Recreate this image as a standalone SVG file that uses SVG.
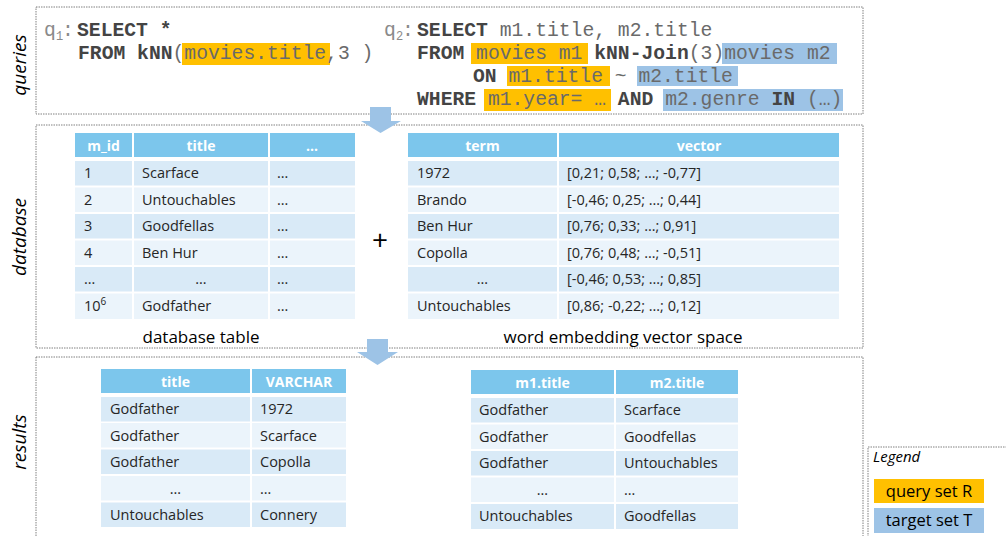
<svg xmlns="http://www.w3.org/2000/svg" width="1006" height="536" viewBox="0 0 1006 536">
<style>
.frame{fill:none;stroke:#808080;stroke-width:1;stroke-dasharray:1.5 1}
.lbl{font-family:"Open Sans",sans-serif;font-style:italic;font-size:19px;fill:#000;text-anchor:middle}
.sql{font-family:"Liberation Mono",monospace;font-size:19.7px;fill:#6a6a6a}
.kw{font-weight:bold;fill:#444}
.ql{fill:#8a8a8a}
.or{fill:#FFC000}
.bl{fill:#9DC3E6}
.hd{fill:#7CC6EC}
.r1{fill:#D9EAF7}
.r2{fill:#EBF4FB}
.th{font-family:"Open Sans",sans-serif;font-weight:bold;font-size:14px;fill:#fff;text-anchor:middle}
.td{font-family:"Open Sans",sans-serif;font-size:14.5px;fill:#262626}
.c{text-anchor:middle}
.cap{font-family:"Open Sans",sans-serif;font-size:17px;fill:#000;text-anchor:middle}
.arrow{fill:#9DC3E6}
.leg{font-family:"Open Sans",sans-serif;font-size:16.5px;fill:#000;text-anchor:middle}
</style>

<g id="queries">
  <rect class="frame" x="36" y="7" width="827" height="107"/>
  <text class="lbl" transform="translate(26,65) rotate(-90)">queries</text>
  <rect class="or" x="182" y="43" width="148" height="22"/>
  <text class="sql" y="35.5"><tspan class="ql" x="44">q</tspan><tspan class="ql" x="56" dy="4" font-size="12">1</tspan><tspan class="ql" x="62" dy="-4">:</tspan><tspan class="kw" x="77">SELECT *</tspan></text>
  <text class="sql" x="78" y="59"><tspan class="kw">FROM kNN</tspan>(movies.title,3 )</text>

  <rect class="or" x="471" y="43" width="117" height="21"/>
  <rect class="bl" x="722" y="43" width="115" height="21"/>
  <rect class="or" x="507" y="66" width="103" height="20"/>
  <rect class="bl" x="637" y="66" width="101" height="20"/>
  <rect class="or" x="484" y="89" width="127" height="22"/>
  <rect class="bl" x="663" y="89" width="180" height="22"/>
  <text class="sql" y="35.5"><tspan class="ql" x="384">q</tspan><tspan class="ql" x="396" dy="4" font-size="12">2</tspan><tspan class="ql" x="402" dy="-4">:</tspan><tspan class="kw" x="417">SELECT</tspan> m1.title, m2.title</text>
  <text class="sql" x="417" y="58.5"><tspan class="kw">FROM</tspan> movies m1 <tspan class="kw">kNN-Join</tspan>(3)movies m2</text>
  <text class="sql" x="473" y="82"><tspan class="kw">ON</tspan> m1.title ~ m2.title</text>
  <text class="sql" x="417" y="105"><tspan class="kw">WHERE</tspan> m1.year= … <tspan class="kw">AND</tspan> m2.genre <tspan class="kw">IN</tspan> (…)</text>
</g>

<g id="database">
  <rect class="frame" x="36" y="125" width="827" height="223"/>
  <text class="lbl" transform="translate(26,237) rotate(-90)">database</text>
</g>

<g id="database-table">
  <rect class="hd" x="75" y="133" width="57" height="24"/>
  <rect class="hd" x="134" y="133" width="134" height="24"/>
  <rect class="hd" x="270" y="133" width="85" height="24"/>
  <g>
    <rect class="r1" x="75" y="161" width="57" height="24.5"/><rect class="r1" x="134" y="161" width="134" height="24.5"/><rect class="r1" x="270" y="161" width="85" height="24.5"/>
    <rect class="r2" x="75" y="187.5" width="57" height="24.5"/><rect class="r2" x="134" y="187.5" width="134" height="24.5"/><rect class="r2" x="270" y="187.5" width="85" height="24.5"/>
    <rect class="r1" x="75" y="214" width="57" height="24.5"/><rect class="r1" x="134" y="214" width="134" height="24.5"/><rect class="r1" x="270" y="214" width="85" height="24.5"/>
    <rect class="r2" x="75" y="240.5" width="57" height="24.5"/><rect class="r2" x="134" y="240.5" width="134" height="24.5"/><rect class="r2" x="270" y="240.5" width="85" height="24.5"/>
    <rect class="r1" x="75" y="267" width="57" height="24.5"/><rect class="r1" x="134" y="267" width="134" height="24.5"/><rect class="r1" x="270" y="267" width="85" height="24.5"/>
    <rect class="r2" x="75" y="293.5" width="57" height="25.5"/><rect class="r2" x="134" y="293.5" width="134" height="25.5"/><rect class="r2" x="270" y="293.5" width="85" height="25.5"/>
  </g>
  <text class="th" x="103.5" y="151">m_id</text>
  <text class="th" x="201" y="151">title</text>
  <text class="th" x="312" y="151">…</text>
  <text class="td" x="84" y="178">1</text><text class="td" x="142" y="178">Scarface</text><text class="td" x="277" y="178">…</text>
  <text class="td" x="84" y="204.5">2</text><text class="td" x="142" y="204.5">Untouchables</text><text class="td" x="277" y="204.5">…</text>
  <text class="td" x="84" y="231">3</text><text class="td" x="142" y="231">Goodfellas</text><text class="td" x="277" y="231">…</text>
  <text class="td" x="84" y="257.5">4</text><text class="td" x="142" y="257.5">Ben Hur</text><text class="td" x="277" y="257.5">…</text>
  <text class="td" x="84" y="284">…</text><text class="td c" x="201" y="284">…</text><text class="td" x="277" y="284">…</text>
  <text class="td" x="84" y="311">10<tspan dy="-6" font-size="10">6</tspan></text><text class="td" x="142" y="311">Godfather</text><text class="td" x="277" y="311">…</text>
  <text class="cap" x="201" y="343">database table</text>
</g>

<g id="plus">
  <text x="380" y="250" font-family="Open Sans, sans-serif" font-size="28" text-anchor="middle" fill="#000">+</text>
</g>

<g id="embedding-table">
  <rect class="hd" x="408" y="133" width="149" height="24"/>
  <rect class="hd" x="559" y="133" width="280" height="24"/>
  <rect class="r1" x="408" y="161" width="149" height="24.5"/><rect class="r1" x="559" y="161" width="280" height="24.5"/>
  <rect class="r2" x="408" y="187.5" width="149" height="24.5"/><rect class="r2" x="559" y="187.5" width="280" height="24.5"/>
  <rect class="r1" x="408" y="214" width="149" height="24.5"/><rect class="r1" x="559" y="214" width="280" height="24.5"/>
  <rect class="r2" x="408" y="240.5" width="149" height="24.5"/><rect class="r2" x="559" y="240.5" width="280" height="24.5"/>
  <rect class="r1" x="408" y="267" width="149" height="24.5"/><rect class="r1" x="559" y="267" width="280" height="24.5"/>
  <rect class="r2" x="408" y="293.5" width="149" height="25.5"/><rect class="r2" x="559" y="293.5" width="280" height="25.5"/>
  <text class="th" x="482.5" y="151">term</text>
  <text class="th" x="699" y="151">vector</text>
  <text class="td" x="417" y="178">1972</text><text class="td" x="567" y="178">[0,21; 0,58; …; -0,77]</text>
  <text class="td" x="417" y="204.5">Brando</text><text class="td" x="567" y="204.5">[-0,46; 0,25; …; 0,44]</text>
  <text class="td" x="417" y="231">Ben Hur</text><text class="td" x="567" y="231">[0,76; 0,33; …; 0,91]</text>
  <text class="td" x="417" y="257.5">Copolla</text><text class="td" x="567" y="257.5">[0,76; 0,48; …; -0,51]</text>
  <text class="td c" x="482.5" y="284">…</text><text class="td" x="567" y="284">[-0,46; 0,53; …; 0,85]</text>
  <text class="td" x="417" y="311">Untouchables</text><text class="td" x="567" y="311">[0,86; -0,22; …; 0,12]</text>
  <text class="cap" x="623" y="343">word embedding vector space</text>
</g>

<g id="results">
  <rect class="frame" x="36" y="357" width="827" height="200"/>
  <text class="lbl" transform="translate(26,442) rotate(-90)">results</text>
</g>

<g id="result-q1">
  <rect class="hd" x="101" y="369" width="149" height="24"/>
  <rect class="hd" x="252" y="369" width="94" height="24"/>
  <rect class="r1" x="101" y="397" width="149" height="24.5"/><rect class="r1" x="252" y="397" width="94" height="24.5"/>
  <rect class="r2" x="101" y="423" width="149" height="24.5"/><rect class="r2" x="252" y="423" width="94" height="24.5"/>
  <rect class="r1" x="101" y="449.5" width="149" height="24.5"/><rect class="r1" x="252" y="449.5" width="94" height="24.5"/>
  <rect class="r2" x="101" y="476" width="149" height="24.5"/><rect class="r2" x="252" y="476" width="94" height="24.5"/>
  <rect class="r1" x="101" y="502.5" width="149" height="24.5"/><rect class="r1" x="252" y="502.5" width="94" height="24.5"/>
  <text class="th" x="175.5" y="387">title</text>
  <text class="th" x="299" y="387">VARCHAR</text>
  <text class="td" x="110" y="414">Godfather</text><text class="td" x="260" y="414">1972</text>
  <text class="td" x="110" y="440.5">Godfather</text><text class="td" x="260" y="440.5">Scarface</text>
  <text class="td" x="110" y="467">Godfather</text><text class="td" x="260" y="467">Copolla</text>
  <text class="td c" x="175.5" y="493.5">…</text><text class="td" x="260" y="493.5">…</text>
  <text class="td" x="110" y="520">Untouchables</text><text class="td" x="260" y="520">Connery</text>
</g>

<g id="result-q2">
  <rect class="hd" x="471" y="370" width="143" height="24"/>
  <rect class="hd" x="616" y="370" width="122" height="24"/>
  <rect class="r1" x="471" y="398" width="143" height="24.5"/><rect class="r1" x="616" y="398" width="122" height="24.5"/>
  <rect class="r2" x="471" y="424.5" width="143" height="24.5"/><rect class="r2" x="616" y="424.5" width="122" height="24.5"/>
  <rect class="r1" x="471" y="451" width="143" height="24.5"/><rect class="r1" x="616" y="451" width="122" height="24.5"/>
  <rect class="r2" x="471" y="477.5" width="143" height="24.5"/><rect class="r2" x="616" y="477.5" width="122" height="24.5"/>
  <rect class="r1" x="471" y="504" width="143" height="25"/><rect class="r1" x="616" y="504" width="122" height="25"/>
  <text class="th" x="542.5" y="388">m1.title</text>
  <text class="th" x="677" y="388">m2.title</text>
  <text class="td" x="479" y="415">Godfather</text><text class="td" x="624" y="415">Scarface</text>
  <text class="td" x="479" y="441.5">Godfather</text><text class="td" x="624" y="441.5">Goodfellas</text>
  <text class="td" x="479" y="468">Godfather</text><text class="td" x="624" y="468">Untouchables</text>
  <text class="td c" x="542.5" y="494.5">…</text><text class="td" x="624" y="494.5">…</text>
  <text class="td" x="479" y="521">Untouchables</text><text class="td" x="624" y="521">Goodfellas</text>
</g>

<g id="legend">
  <rect class="frame" x="868" y="447" width="150" height="100"/>
  <text x="873" y="462" font-family="Open Sans, sans-serif" font-style="italic" font-size="15" fill="#000">Legend</text>
  <rect class="or" x="874" y="479" width="110" height="24"/>
  <text class="leg" x="929" y="497">query set R</text>
  <rect class="bl" x="874" y="508" width="110" height="25"/>
  <text class="leg" x="929" y="526">target set T</text>
</g>

<g id="connectors">
  <polygon class="arrow" points="370,107 391,107 391,121 401,121 380.5,133 361,121 370,121"/>
  <polygon class="arrow" points="367,339 388,339 388,352 398,352 377.5,365 357,352 367,352"/>
</g>
</svg>
